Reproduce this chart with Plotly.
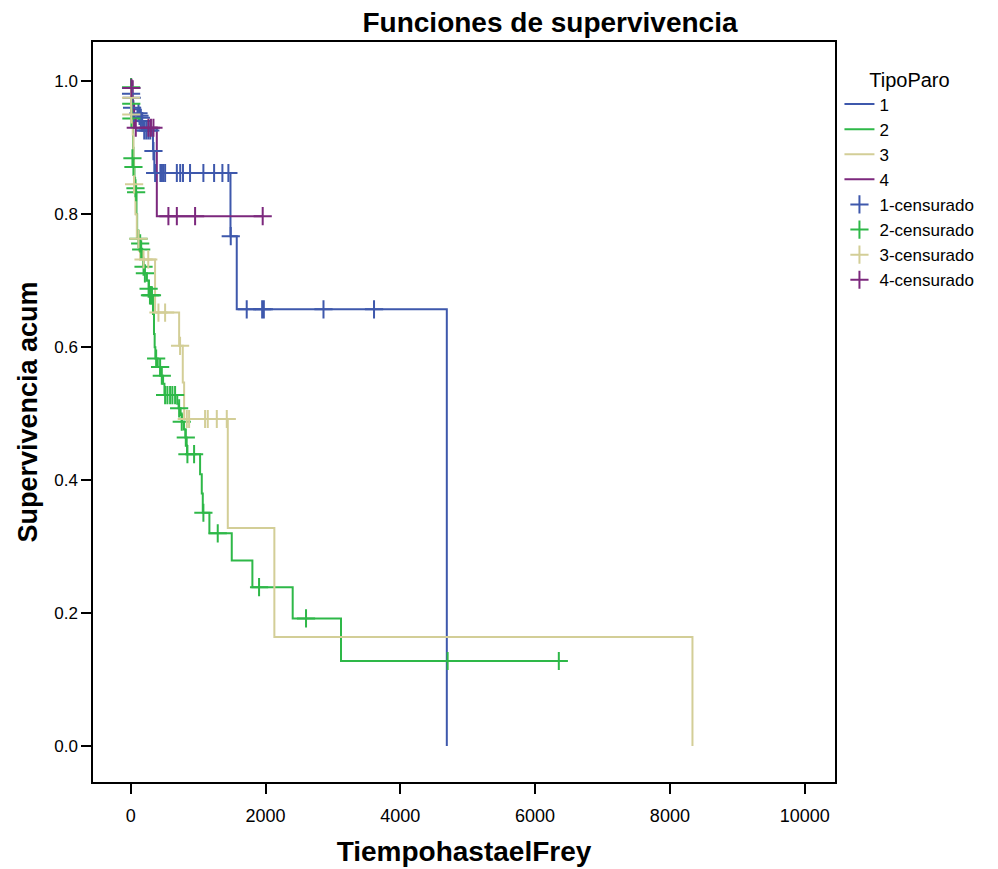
import plotly.graph_objects as go

# ---------------- data ----------------
groups = ["1", "2", "3", "4"]
colors = ["#3E58AC", "#2EB848", "#D3CE97", "#7C287D"]

# Kaplan-Meier step functions: time, cumulative survival
g1_t = [0, 8, 20, 40, 100, 150, 190, 330, 350, 1480, 1573, 4690]
g1_s = [1.0, 0.985, 0.970, 0.958, 0.948, 0.938, 0.926, 0.895, 0.862, 0.767, 0.657, 0.0]

g2_t = [0, 15, 25, 30, 35, 40, 45, 55, 65, 75, 85, 95, 110, 130, 150, 170, 185, 205,
        240, 270, 295, 330, 345, 355, 365, 400, 440, 480, 500, 690, 710, 740, 757,
        790, 810, 830, 835, 1029, 1054, 1069, 1167, 1499, 1805, 2403, 3120, 6352]
g2_s = [1.0, 0.975, 0.955, 0.930, 0.900, 0.884, 0.871, 0.855, 0.840, 0.833, 0.800,
        0.775, 0.765, 0.757, 0.748, 0.735, 0.722, 0.711, 0.700, 0.690, 0.678, 0.650,
        0.620, 0.600, 0.583, 0.570, 0.557, 0.545, 0.528, 0.515, 0.508, 0.498, 0.488,
        0.476, 0.464, 0.452, 0.439, 0.409, 0.380, 0.351, 0.320, 0.279, 0.239, 0.192,
        0.128, 0.128]

g3_t = [0, 10, 20, 30, 40, 50, 70, 90, 120, 140, 361, 718, 772, 792, 1440, 2131, 8335]
g3_s = [1.0, 0.975, 0.950, 0.920, 0.880, 0.845, 0.800, 0.763, 0.745, 0.732, 0.652,
        0.602, 0.547, 0.492, 0.328, 0.164, 0.0]

g4_t = [0, 30, 50, 387, 1958]
g4_s = [1.0, 0.965, 0.930, 0.797, 0.797]

# censored observations: time, survival at censoring
c1_t = [5, 5, 15, 20, 115, 130, 150, 170, 200, 230, 260, 290, 337, 362, 440, 460, 480,
        510, 684, 734, 775, 880, 1078, 1237, 1360, 1449, 1484, 1721, 1950, 1975, 2860, 3610]
c1_s = [0.990, 0.981, 0.975, 0.960, 0.952, 0.948, 0.945, 0.940, 0.926, 0.926, 0.926,
        0.926, 0.895, 0.862, 0.862, 0.862, 0.862, 0.862, 0.862, 0.862, 0.862, 0.862,
        0.862, 0.862, 0.862, 0.862, 0.767, 0.657, 0.657, 0.657, 0.657, 0.657]

c2_t = [5, 8, 10, 25, 40, 70, 80, 115, 140, 155, 190, 210, 265, 285, 300, 315, 377, 436,
        461, 510, 544, 584, 618, 658, 718, 757, 817, 841, 940, 1078, 1291, 1904, 2601,
        4702, 6352]
c2_s = [0.991, 0.966, 0.944, 0.884, 0.871, 0.839, 0.833, 0.763, 0.756, 0.747, 0.721,
        0.711, 0.688, 0.678, 0.678, 0.678, 0.583, 0.570, 0.557, 0.528, 0.528, 0.528,
        0.528, 0.528, 0.508, 0.488, 0.464, 0.439, 0.439, 0.351, 0.320, 0.239, 0.192,
        0.128, 0.128]

c3_t = [5, 8, 50, 115, 190, 260, 411, 510, 732, 832, 866, 1103, 1143, 1277, 1425]
c3_s = [0.975, 0.950, 0.845, 0.763, 0.732, 0.732, 0.652, 0.652, 0.602, 0.492, 0.492,
        0.492, 0.492, 0.492, 0.492]

c4_t = [10, 75, 263, 300, 337, 559, 684, 955, 1958]
c4_s = [0.990, 0.930, 0.930, 0.930, 0.930, 0.797, 0.797, 0.797, 0.797]

x_ticks = [0, 2000, 4000, 6000, 8000, 10000]
y_ticks = [0.0, 0.2, 0.4, 0.6, 0.8, 1.0]

steps = [(g1_t, g1_s), (g2_t, g2_s), (g3_t, g3_s), (g4_t, g4_s)]
cens = [(c1_t, c1_s), (c2_t, c2_s), (c3_t, c3_s), (c4_t, c4_s)]

# ---------------- figure ----------------
fig = go.Figure()
for name, col, (t, s) in zip(groups, colors, steps):
    fig.add_trace(go.Scatter(x=t, y=s, mode="lines", name=name,
                             line=dict(color=col, width=2, shape="hv")))
for name, col, (t, s) in zip(groups, colors, cens):
    fig.add_trace(go.Scatter(x=t, y=s, mode="markers", name=name + "-censurado",
                             marker=dict(symbol="cross-thin", size=13,
                                         line=dict(color=col, width=2))))

font_main = "Liberation Sans, Arial, sans-serif"
fig.update_layout(
    width=998, height=869,
    margin=dict(l=93, r=163, t=42, b=87, autoexpand=False),
    paper_bgcolor="white", plot_bgcolor="white",
    title=dict(text="<b>Funciones de supervivencia</b>", x=(550 - 93) / 742,
               xref="paper", xanchor="center", y=0.974, yanchor="middle",
               font=dict(family=font_main, size=28, color="black")),
    font=dict(family=font_main, color="black"),
    showlegend=True,
    legend=dict(x=1.006, xanchor="left", y=0.975, yanchor="top",
                title=dict(text="TipoParo", side="top center",
                           font=dict(size=20, family=font_main)),
                font=dict(size=17, family=font_main), bgcolor="rgba(0,0,0,0)",
                itemwidth=30, tracegroupgap=0),
    xaxis=dict(range=[-560, 10450], tickvals=x_ticks,
               ticktext=[str(v) for v in x_ticks], automargin=False,
               showgrid=False, zeroline=False, showline=True, linecolor="black",
               linewidth=1.5, mirror=True, ticks="outside", ticklen=10, tickwidth=1.5,
               tickcolor="black", ticklabelstandoff=7,
               tickfont=dict(family=font_main, size=18),
               title=dict(text="<b>TiempohastaelFrey</b>", standoff=16,
                          font=dict(family=font_main, size=28))),
    yaxis=dict(range=[-0.054, 1.059], tickvals=y_ticks,
               ticktext=["%.1f" % v for v in y_ticks], automargin=False,
               showgrid=False, zeroline=False, showline=True, linecolor="black",
               linewidth=1.5, mirror=True, ticks="outside", ticklen=10, tickwidth=1.5,
               tickcolor="black", tickfont=dict(family=font_main, size=17),
               title=dict(text="<b>Supervivencia acum</b>", standoff=9,
                          font=dict(family=font_main, size=27))),
)

fig.write_html("out.html")
